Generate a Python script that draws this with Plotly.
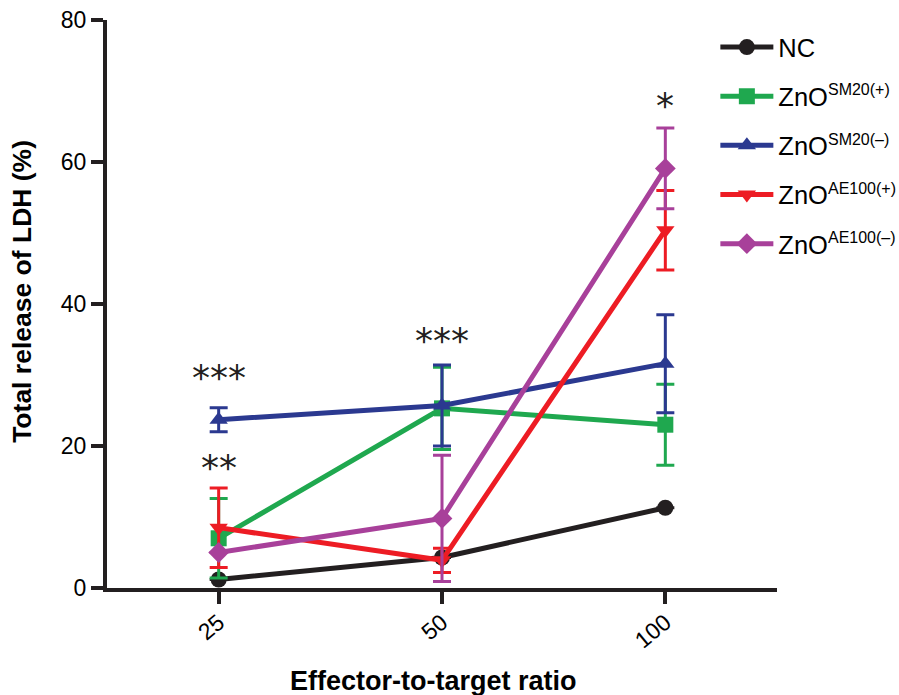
import plotly.graph_objects as go

categories = ["25", "50", "100"]
sup_style = "<sup><span style='font-size:16px'>{}</span></sup>"
series_names = ["NC",
                "ZnO" + sup_style.format("SM20(+)"),
                "ZnO" + sup_style.format("SM20(–)"),
                "ZnO" + sup_style.format("AE100(+)"),
                "ZnO" + sup_style.format("AE100(–)")]
nc_vals = [1.2, 4.3, 11.3]
nc_err = [0, 0, 0]
sm20p_vals = [7.0, 25.3, 23.0]
sm20p_err = [5.6, 5.8, 5.7]
sm20m_vals = [23.7, 25.7, 31.6]
sm20m_err = [1.7, 5.7, 6.9]
ae100p_vals = [8.5, 3.9, 50.4]
ae100p_err = [5.6, 1.7, 5.6]
ae100m_vals = [5.0, 9.8, 59.1]
ae100m_err = [0.0, 8.9, 5.7]
sig_labels = ["***", "**", "***", "*"]
sig_x = ["25", "25", "50", "100"]
sig_y = [29.7, 17.0, 34.9, 68.0]

colors = ["#231f20", "#1fa84f", "#2b3990", "#ed1c24", "#a8409a"]
symbols = ["circle", "square", "triangle-up", "triangle-down", "diamond"]
vals = [nc_vals, sm20p_vals, sm20m_vals, ae100p_vals, ae100m_vals]
errs = [nc_err, sm20p_err, sm20m_err, ae100p_err, ae100m_err]

fig = go.Figure()
for i in range(5):
    fig.add_trace(go.Scatter(
        x=categories, y=vals[i], name=series_names[i],
        mode="lines+markers",
        line=dict(color=colors[i], width=5),
        marker=dict(color=colors[i], symbol=symbols[i], size=16),
        error_y=dict(type="data", array=errs[i], color=colors[i],
                     thickness=3, width=9, visible=True),
        legendgroup=str(i),
    ))

for t, xx, yy in zip(sig_labels, sig_x, sig_y):
    fig.add_annotation(x=categories.index(xx), y=yy, xref="x", yref="y",
                       text=t, showarrow=False,
                       font=dict(size=36, color="#231f20",
                                 family="DejaVu Sans"))

fig.add_annotation(x=0.487, y=-0.1637, xref="paper", yref="paper",
                   xanchor="center", yanchor="middle",
                   text="<b>Effector-to-target ratio</b>", showarrow=False,
                   font=dict(size=27, color="#000"))
fig.add_annotation(x=-0.127, y=0.523, xref="paper", yref="paper",
                   xanchor="center", yanchor="middle",
                   text="<b>Total release of LDH (%)</b>", showarrow=False,
                   textangle=-90, font=dict(size=26.5, color="#000"))

fig.update_layout(
    width=899, height=695,
    margin=dict(l=107, r=122, t=20, b=107, autoexpand=False),
    paper_bgcolor="white", plot_bgcolor="white",
    font=dict(family="Liberation Sans, Arial, sans-serif", color="#000"),
    showlegend=True,
    legend=dict(x=0.908, y=0.993, xanchor="left", yanchor="top",
                font=dict(size=25.5, color="#000"), tracegroupgap=13,
                bgcolor="rgba(0,0,0,0)", itemwidth=53),
    xaxis=dict(type="category", range=[-0.5, 2.5], showline=True,
               linecolor="#231f20", linewidth=4, ticks="outside",
               ticklen=12, tickwidth=4, tickcolor="#231f20",
               tickangle=-40, tickfont=dict(size=23),
               ticklabelstandoff=-4,
               showgrid=False, zeroline=False, automargin=False),
    yaxis=dict(range=[0, 80], tickvals=[0, 20, 40, 60, 80], showline=True,
               linecolor="#231f20", linewidth=4, ticks="outside",
               ticklen=12, tickwidth=4, tickcolor="#231f20",
               tickfont=dict(size=23), showgrid=False, zeroline=False,
               automargin=False),
)

fig.write_html("out.html",
               config={"displayModeBar": False},
               post_script="document.body.style.margin='0px';"
                           "document.body.style.overflow='hidden';")
